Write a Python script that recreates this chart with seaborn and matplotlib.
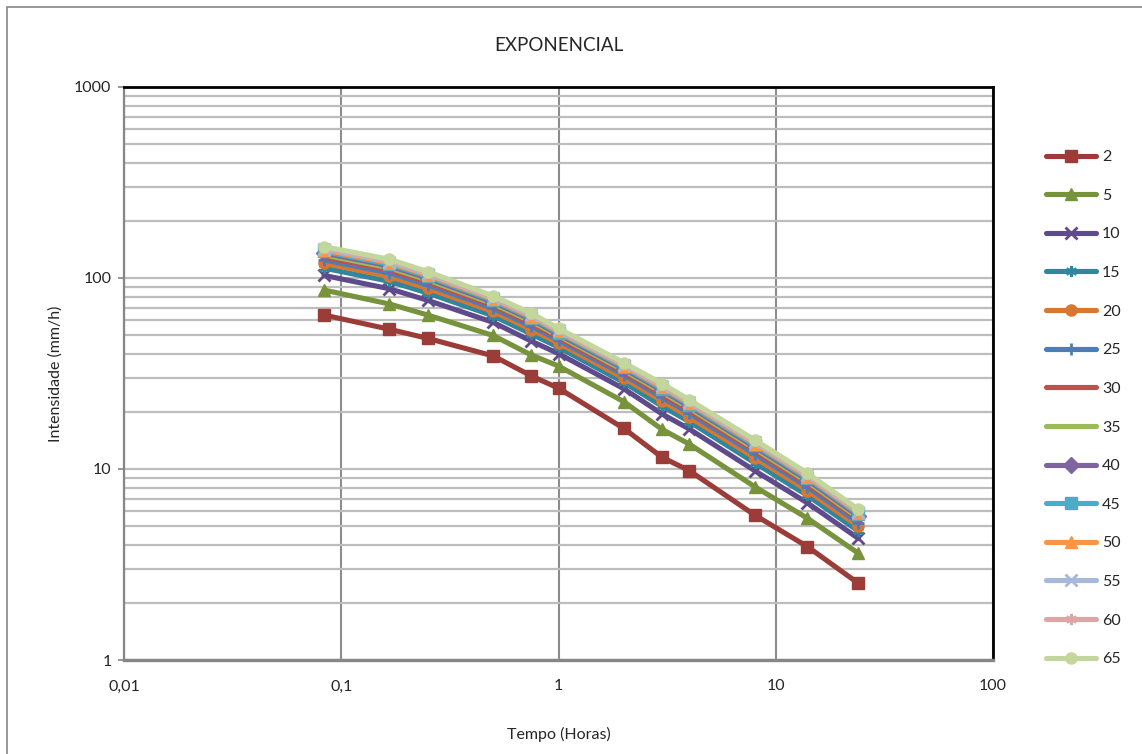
import numpy as np
import pandas as pd
import matplotlib
matplotlib.use("Agg")
import matplotlib.pyplot as plt
import matplotlib.patches as mpatches
import seaborn as sns

# ---------------- data ----------------
tempo_h = [0.0833, 0.1667, 0.25, 0.5, 0.75, 1, 2, 3, 4, 8, 14, 24]
periodos = ["2", "5", "10", "15", "20", "25", "30", "35", "40", "45", "50", "55", "60", "65"]

i_2  = [64.0, 53.9, 48.3, 39.1, 30.7, 26.5, 16.3, 11.5, 9.8, 5.74, 3.92, 2.52]
i_5  = [86.5, 73.1, 64.0, 50.0, 39.5, 34.6, 22.5, 16.1, 13.5, 8.08, 5.52, 3.62]
i_10 = [103.2, 87.8, 76.4, 58.6, 46.7, 40.2, 26.3, 19.4, 16.2, 9.80, 6.64, 4.33]
i_15 = [112.7, 96.1, 83.4, 63.4, 50.9, 43.4, 28.4, 21.3, 17.7, 10.77, 7.27, 4.73]
i_20 = [119.3, 101.9, 88.2, 66.8, 53.7, 45.6, 29.9, 22.7, 18.7, 11.45, 7.71, 5.01]
i_25 = [124.4, 106.4, 92.0, 69.4, 55.9, 47.3, 31.1, 23.7, 19.6, 11.98, 8.06, 5.23]
i_30 = [128.5, 110.0, 95.1, 71.5, 57.7, 48.6, 32.0, 24.5, 20.2, 12.40, 8.33, 5.41]
i_35 = [132.0, 113.0, 97.7, 73.3, 59.2, 49.8, 32.8, 25.2, 20.8, 12.76, 8.56, 5.56]
i_40 = [135.1, 115.7, 99.9, 74.9, 60.6, 50.8, 33.5, 25.8, 21.3, 13.07, 8.77, 5.68]
i_45 = [137.7, 118.0, 101.9, 76.3, 61.7, 51.7, 34.1, 26.3, 21.7, 13.35, 8.95, 5.80]
i_50 = [140.1, 120.1, 103.6, 77.5, 62.7, 52.5, 34.7, 26.8, 22.1, 13.59, 9.11, 5.90]
i_55 = [142.3, 122.0, 105.2, 78.6, 63.7, 53.2, 35.1, 27.3, 22.4, 13.81, 9.25, 5.99]
i_60 = [144.2, 123.7, 106.6, 79.6, 64.5, 53.9, 35.6, 27.6, 22.7, 14.01, 9.38, 6.07]
i_65 = [146.0, 125.3, 108.0, 80.5, 65.3, 54.5, 36.0, 28.0, 23.0, 14.20, 9.50, 6.15]

series = [i_2, i_5, i_10, i_15, i_20, i_25, i_30, i_35, i_40, i_45, i_50, i_55, i_60, i_65]

x_ticks = [0.01, 0.1, 1, 10, 100]
x_ticklabels = ["0,01", "0,1", "1", "10", "100"]
y_ticks = [1, 10, 100, 1000]
y_ticklabels = ["1", "10", "100", "1000"]

rows = []
for p, vals in zip(periodos, series):
    for t, v in zip(tempo_h, vals):
        rows.append({"Tempo": t, "Intensidade": v, "T": p})
df = pd.DataFrame(rows)

# ---------------- style ----------------
colors = ["#9C3C39", "#77933C", "#5F4B8B", "#31859C", "#D8772F", "#4A7EBB", "#C0504D",
          "#9BBB59", "#8064A2", "#4BACC6", "#F79646", "#A7B9DA", "#DBA6A5", "#C3D69B"]
markers = ["s", "^", "x", (6, 2, 0), "o", "+", None, None, "D", "s", "^", "x", (6, 2, 0), "o"]

sns.set_style("white")
plt.rcParams["font.family"] = ["Lato", "DejaVu Sans"]

fig = plt.figure(figsize=(11.42, 7.54), dpi=100)
ax = fig.add_axes([124 / 1142, 1 - 660 / 754, (993 - 124) / 1142, (660 - 87) / 754])

for p, c, m in zip(periodos, colors, markers):
    sub = df[df["T"] == p]
    kw = dict(marker=m, markersize=10, markeredgecolor=c, markerfacecolor=c)
    if m in ("x", "+") or isinstance(m, tuple):
        kw.update(markeredgewidth=2.0, markersize=10)
    else:
        kw.update(markeredgewidth=1)
    sns.lineplot(data=sub, x="Tempo", y="Intensidade", ax=ax, color=c, linewidth=3.7,
                 label=p, legend=False, **kw)

ax.set_xscale("log")
ax.set_yscale("log")
ax.set_xlim(0.01, 100)
ax.set_ylim(1, 1000)

ax.set_xticks(x_ticks)
ax.set_xticklabels(x_ticklabels)
ax.set_yticks(y_ticks)
ax.set_yticklabels(y_ticklabels)
ax.xaxis.set_minor_locator(matplotlib.ticker.NullLocator())
ax.yaxis.set_minor_locator(matplotlib.ticker.LogLocator(base=10, subs=np.arange(2, 10)))
ax.yaxis.set_minor_formatter(matplotlib.ticker.NullFormatter())

ax.grid(True, axis="y", which="both", color="#BDBDBD", linewidth=1.6, zorder=0)
ax.grid(True, axis="x", which="major", color="#8C8C8C", linewidth=1.5, zorder=0)
ax.set_axisbelow(True)

ax.tick_params(axis="y", which="major", length=4, width=1.2, color="#868686", pad=5,
               labelsize=11.5, left=True)
ax.tick_params(axis="y", which="minor", length=0)
ax.tick_params(axis="x", which="major", length=0, pad=14, labelsize=11.5)

for s in ["top", "right"]:
    ax.spines[s].set_color("black")
    ax.spines[s].set_linewidth(2)
ax.spines["left"].set_color("#868686")
ax.spines["left"].set_linewidth(1.6)
ax.spines["bottom"].set_color("#868686")
ax.spines["bottom"].set_linewidth(2.4)

ax.set_xlabel("Tempo (Horas)", fontsize=11.5, labelpad=24)
ax.set_ylabel("Intensidade (mm/h)", fontsize=11.5, labelpad=8)
ax.set_title("EXPONENCIAL", fontsize=13.5, pad=26)

handles, labels = ax.get_legend_handles_labels()
for h in handles:
    h.set_markersize(h.get_markersize() * 0.8)
leg = fig.legend(handles, labels, loc="upper left", bbox_to_anchor=(1046 / 1142, 1 - 150 / 754),
                 frameon=False, fontsize=11.5, handlelength=3.1, handletextpad=0.4,
                 labelspacing=1.53, borderpad=0, borderaxespad=0)

# outer chart border
fig.patches.append(mpatches.Rectangle((7 / 1142, -0.05), 1.2, 1 - 7 / 754 + 0.05,
                                      transform=fig.transFigure, fill=False,
                                      edgecolor="#868686", linewidth=1.2, zorder=-1))

fig.savefig("out.png", dpi=100)
